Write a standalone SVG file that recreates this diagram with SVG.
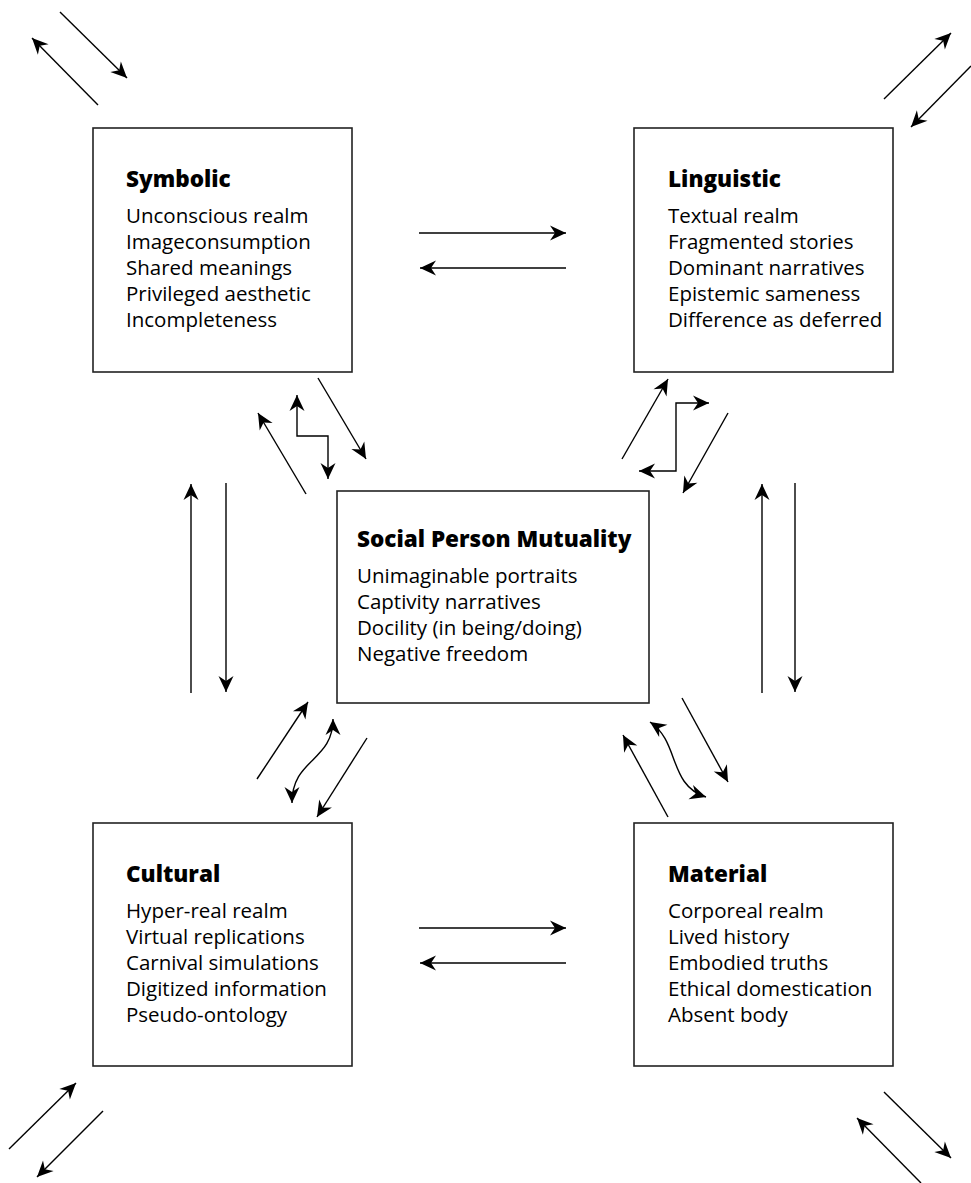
<svg xmlns="http://www.w3.org/2000/svg" width="971" height="1183" viewBox="0 0 971 1183">
<style>
.box{fill:#fff;stroke:#222;stroke-width:1.6}
.t{font-family:"Open Sans","Noto Sans","Liberation Sans",sans-serif;font-size:20.5px;fill:#000}
.h{font-weight:800;font-size:22.5px}
.c{fill:none;stroke:#000;stroke-width:1.4}
</style>
<defs>
<marker id="ah" viewBox="-18 -9 20 18" markerWidth="20" markerHeight="18" refX="0" refY="0" orient="auto-start-reverse" markerUnits="userSpaceOnUse">
<path d="M0,0 L-16,-7.5 L-11,0 L-16,7.5 Z" fill="#000"/>
</marker>
</defs>
<rect width="971" height="1183" fill="#fff"/>
<g id="symbolic">
<rect class="box" x="93" y="128" width="259" height="244"/>
<text class="t h" x="126" y="187">Symbolic</text>
<text class="t" x="126" y="223">Unconscious realm</text>
<text class="t" x="126" y="249">Imageconsumption</text>
<text class="t" x="126" y="275">Shared meanings</text>
<text class="t" x="126" y="301">Privileged aesthetic</text>
<text class="t" x="126" y="327">Incompleteness</text>
</g>
<g id="linguistic">
<rect class="box" x="634" y="128" width="259" height="244"/>
<text class="t h" x="668" y="187">Linguistic</text>
<text class="t" x="668" y="223">Textual realm</text>
<text class="t" x="668" y="249">Fragmented stories</text>
<text class="t" x="668" y="275">Dominant narratives</text>
<text class="t" x="668" y="301">Epistemic sameness</text>
<text class="t" x="668" y="327">Difference as deferred</text>
</g>
<g id="social">
<rect class="box" x="337" y="491" width="312" height="212"/>
<text class="t h" x="357" y="547">Social Person Mutuality</text>
<text class="t" x="357" y="583">Unimaginable portraits</text>
<text class="t" x="357" y="609">Captivity narratives</text>
<text class="t" x="357" y="635">Docility (in being/doing)</text>
<text class="t" x="357" y="661">Negative freedom</text>
</g>
<g id="cultural">
<rect class="box" x="93" y="823" width="259" height="243"/>
<text class="t h" x="126" y="882">Cultural</text>
<text class="t" x="126" y="918">Hyper-real realm</text>
<text class="t" x="126" y="944">Virtual replications</text>
<text class="t" x="126" y="970">Carnival simulations</text>
<text class="t" x="126" y="996">Digitized information</text>
<text class="t" x="126" y="1022">Pseudo-ontology</text>
</g>
<g id="material">
<rect class="box" x="634" y="823" width="259" height="243"/>
<text class="t h" x="668" y="882">Material</text>
<text class="t" x="668" y="918">Corporeal realm</text>
<text class="t" x="668" y="944">Lived history</text>
<text class="t" x="668" y="970">Embodied truths</text>
<text class="t" x="668" y="996">Ethical domestication</text>
<text class="t" x="668" y="1022">Absent body</text>
</g>
<g id="connectors">
<path class="c" d="M60,12 L127,78" marker-end="url(#ah)"/>
<path class="c" d="M98,105 L32,38" marker-end="url(#ah)"/>
<path class="c" d="M884,99 L951,33" marker-end="url(#ah)"/>
<path class="c" d="M971,66 L911,127" marker-end="url(#ah)"/>
<path class="c" d="M9,1149 L76,1083" marker-end="url(#ah)"/>
<path class="c" d="M103,1111 L37,1177" marker-end="url(#ah)"/>
<path class="c" d="M884,1092 L951,1158" marker-end="url(#ah)"/>
<path class="c" d="M921,1183 L857,1118" marker-end="url(#ah)"/>
<path class="c" d="M419,233 L566,233" marker-end="url(#ah)"/>
<path class="c" d="M566,268 L420,268" marker-end="url(#ah)"/>
<path class="c" d="M419,928 L566,928" marker-end="url(#ah)"/>
<path class="c" d="M566,963 L420,963" marker-end="url(#ah)"/>
<path class="c" d="M191,693 L191,484" marker-end="url(#ah)"/>
<path class="c" d="M226,483 L226,692" marker-end="url(#ah)"/>
<path class="c" d="M762,693 L762,484" marker-end="url(#ah)"/>
<path class="c" d="M795,483 L795,692" marker-end="url(#ah)"/>
<path class="c" d="M318,378 L366,459" marker-end="url(#ah)"/>
<path class="c" d="M306,494 L258,413" marker-end="url(#ah)"/>
<path class="c" d="M297,395 L297,436 L328,436 L328,479" marker-start="url(#ah)" marker-end="url(#ah)"/>
<path class="c" d="M622,459 L668,379" marker-end="url(#ah)"/>
<path class="c" d="M728,413 L683,493" marker-end="url(#ah)"/>
<path class="c" d="M709,403 L676,403 L676,471 L639,471" marker-start="url(#ah)" marker-end="url(#ah)"/>
<path class="c" d="M257,779 L308,702" marker-end="url(#ah)"/>
<path class="c" d="M367,738 L317,817" marker-end="url(#ah)"/>
<path class="c" d="M333,719 C333,762 292,758 292,803" marker-start="url(#ah)" marker-end="url(#ah)"/>
<path class="c" d="M682,698 L728,782" marker-end="url(#ah)"/>
<path class="c" d="M668,817 L623,735" marker-end="url(#ah)"/>
<path class="c" d="M650,722 C680,742 668,785 706,797" marker-start="url(#ah)" marker-end="url(#ah)"/>
</g>
</svg>
